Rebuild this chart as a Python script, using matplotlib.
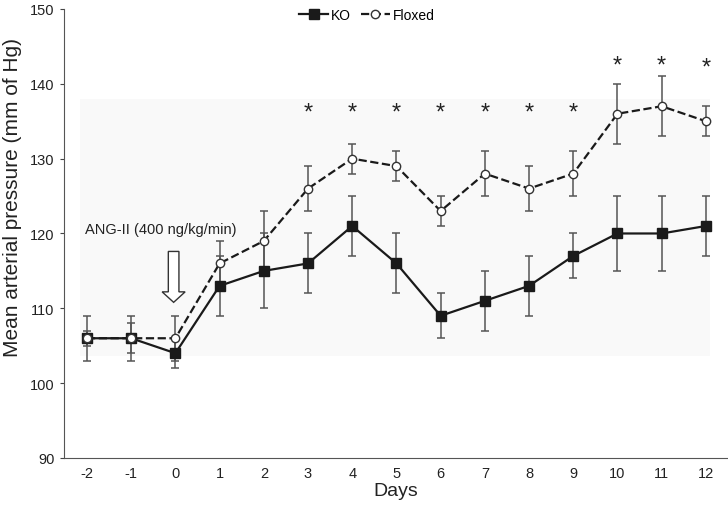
import numpy as np
import matplotlib.pyplot as plt
from matplotlib.patches import FancyArrow, Rectangle

plt.rcParams['font.family'] = ['Liberation Sans', 'DejaVu Sans']

days = [-2, -1, 0, 1, 2, 3, 4, 5, 6, 7, 8, 9, 10, 11, 12]
ko = [106, 106, 104, 113, 115, 116, 121, 116, 109, 111, 113, 117, 120, 120, 121]
ko_err = [1, 2, 2, 4, 5, 4, 4, 4, 3, 4, 4, 3, 5, 5, 4]
floxed = [106, 106, 106, 116, 119, 126, 130, 129, 123, 128, 126, 128, 136, 137, 135]
floxed_err = [3, 3, 3, 3, 4, 3, 2, 2, 2, 3, 3, 3, 4, 4, 2]
star_days = [3, 4, 5, 6, 7, 8, 9, 10, 11, 12]
star_y = [137.3, 137.3, 137.3, 137.3, 137.3, 137.3, 137.3, 143.6, 143.6, 143.3]

fig = plt.figure(figsize=(7.28, 5.06), dpi=100)
ax = fig.add_axes([0.0879, 0.0929, 0.9121, 0.8874])

x = np.arange(len(days))

# faint shaded box behind the data
ax.add_patch(Rectangle((-0.16, 103.6), 14.26, 34.4, facecolor='#f9f9f9', edgecolor='none', zorder=0))

ax.errorbar(x, ko, yerr=ko_err, fmt='none', ecolor='#555555', elinewidth=1.1, capsize=3, capthick=1.1, zorder=2)
ax.errorbar(x, floxed, yerr=floxed_err, fmt='none', ecolor='#555555', elinewidth=1.1, capsize=3, capthick=1.1, zorder=2)
ax.plot(x, ko, '-s', color='#1a1a1a', lw=1.6, ms=7, mfc='#1a1a1a', label='KO', zorder=3)
ax.plot(x, floxed, '--o', color='#1a1a1a', lw=1.6, ms=6, mfc='white', mec='#333333', label='Floxed', zorder=4)

for d, yy in zip(star_days, star_y):
    ax.text(days.index(d), yy - 1.9, '*', ha='center', va='baseline', fontsize=17, color='#222222')

ax.text(-0.05, 120.6, 'ANG-II (400 ng/kg/min)', fontsize=10.5, ha='left', va='center', color='#222222')
ax.add_patch(FancyArrow(1.96, 117.6, 0, -6.8, width=0.24, head_width=0.52, head_length=1.4,
                        length_includes_head=True, facecolor='white', edgecolor='#333333', lw=1.0, zorder=3))

ax.set_xlim(-0.52, 14.5)
ax.set_ylim(90, 150)
ax.set_xticks(x)
ax.set_xticklabels([str(d) for d in days], fontsize=10.5, color='#222222')
ax.set_yticks(range(90, 151, 10))
ax.tick_params(axis='y', labelsize=10.5, length=3, pad=4, color='#444444', labelcolor='#222222')
ax.tick_params(axis='x', length=0, pad=6)
ax.spines['top'].set_visible(False)
ax.spines['right'].set_visible(False)
ax.spines['left'].set_color('#555555')
ax.spines['bottom'].set_color('#555555')
ax.set_xlabel('Days', fontsize=14, labelpad=1, color='#222222')
fig.text(0.017, 0.609, 'Mean arterial pressure (mm of Hg)', rotation=90, ha='center', va='center', fontsize=15, color='#222222')

ax.legend(loc='center', bbox_to_anchor=(0.456, 0.987), ncol=2, frameon=False, fontsize=10,
          handlelength=2.1, columnspacing=0.7, handletextpad=0.2)

fig.savefig('out.png', dpi=100)
